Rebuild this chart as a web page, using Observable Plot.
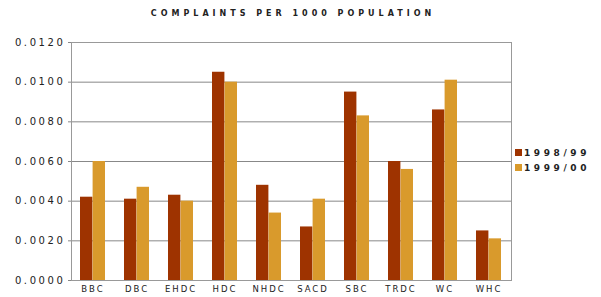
<!DOCTYPE html>
<html>
<head>
<meta charset="utf-8">
<script src="https://cdn.jsdelivr.net/npm/d3@7"></script>
<script src="https://cdn.jsdelivr.net/npm/@observablehq/plot@0.6"></script>
<style>
  html, body { margin: 0; padding: 0; background: #fff; }
  #wrap { position: relative; width: 601px; height: 297px; font-family: "DejaVu Sans", sans-serif; }
  #title { position: absolute; left: 0; top: 9px; width: 586px; text-align: center; font-size: 8px; font-weight: bold; letter-spacing: 4px; color: #222; white-space: nowrap; }
  #chart { position: absolute; left: 0; top: 30px; }
  #chart svg g[aria-label="y-axis tick label"] text { letter-spacing: 2.6px; font-size: 10px; }
  #chart svg g[aria-label="x-axis tick label"] text { letter-spacing: 2px; font-size: 8.5px; }
  #legend { position: absolute; left: 515px; top: 145px; font-size: 9px; font-weight: bold; letter-spacing: 3.6px; color: #222; }
  #legend div { display: flex; align-items: center; height: 15px; white-space: nowrap; }
  #legend span.sw { display: inline-block; width: 7px; height: 7px; margin-right: 2px; }
</style>
</head>
<body>
<div id="wrap">
  <div id="title">COMPLAINTS PER 1000 POPULATION</div>
  <div id="chart"></div>
  <div id="legend"></div>
</div>
<script>
const categories = ["BBC", "DBC", "EHDC", "HDC", "NHDC", "SACD", "SBC", "TRDC", "WC", "WHC"];
const series = ["1998/99", "1999/00"];
const values9899 = [0.0042, 0.0041, 0.0043, 0.0105, 0.0048, 0.0027, 0.0095, 0.0060, 0.0086, 0.0025];
const values9900 = [0.0060, 0.0047, 0.0040, 0.0100, 0.0034, 0.0041, 0.0083, 0.0056, 0.0101, 0.0021];
const yTicks = [0, 0.002, 0.004, 0.006, 0.008, 0.010, 0.012];
const colors = ["#9e3300", "#d99a2c"];

const rows = [];
categories.forEach((c, i) => {
  rows.push({cat: c, series: series[0], value: values9899[i]});
  rows.push({cat: c, series: series[1], value: values9900[i]});
});

const halfBand = 12.6;
const plot = Plot.plot({
  width: 601,
  height: 267,
  marginTop: 12,
  marginBottom: 17,
  marginLeft: 71,
  marginRight: 90,
  style: {fontFamily: "DejaVu Sans, sans-serif", fontSize: "9px", color: "#222", background: "#fff"},
  x: {domain: categories, paddingInner: 0.43, paddingOuter: 0.2, label: null, tickSize: 0, tickPadding: 5},
  y: {domain: [0, 0.012], ticks: yTicks, tickFormat: d3.format(".4f"), label: null},
  color: {domain: series, range: colors},
  marks: [
    Plot.ruleY(yTicks, {stroke: "#888", strokeWidth: 1}),
    Plot.barY(rows.filter(d => d.series === series[0]), {x: "cat", y: "value", fill: "series", insetRight: halfBand}),
    Plot.barY(rows.filter(d => d.series === series[1]), {x: "cat", y: "value", fill: "series", insetLeft: halfBand}),
    Plot.axisY({ticks: yTicks, tickFormat: d3.format(".4f"), tickSize: 3, tickPadding: 3, stroke: "#888"}),
    Plot.ruleY([0], {stroke: "#888"}),
    Plot.frame({stroke: "#999", strokeWidth: 1})
  ]
});
document.getElementById("chart").appendChild(plot);

const leg = document.getElementById("legend");
series.forEach((s, i) => {
  const row = document.createElement("div");
  const sw = document.createElement("span");
  sw.className = "sw";
  sw.style.background = colors[i];
  row.appendChild(sw);
  row.appendChild(document.createTextNode(s));
  leg.appendChild(row);
});
</script>
</body>
</html>
